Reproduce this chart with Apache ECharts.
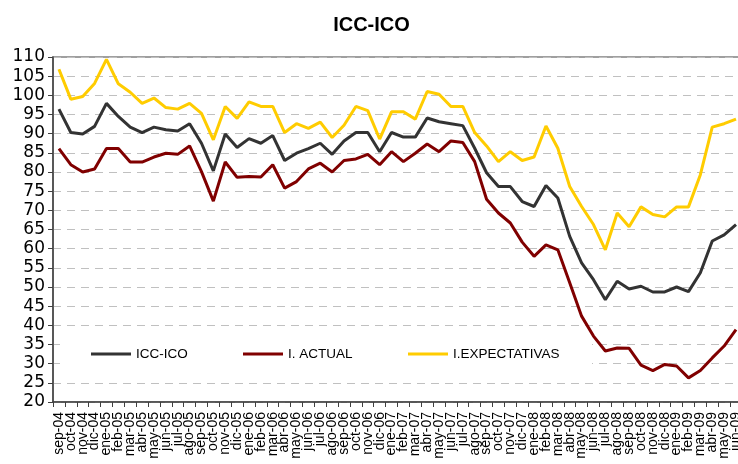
<!DOCTYPE html>
<html>
<head>
<meta charset="utf-8">
<script src="https://cdn.jsdelivr.net/npm/echarts@6/dist/echarts.min.js"></script>
<style>
html,body{margin:0;padding:0;background:#fff;overflow:hidden;width:738px;height:464px;}
#chart{width:743px;height:464px;}
</style>
</head>
<body>
<div id="chart"></div>
<script>
var months = ['sep-04','oct-04','nov-04','dic-04',
  'ene-05','feb-05','mar-05','abr-05','may-05','jun-05','jul-05','ago-05','sep-05','oct-05','nov-05','dic-05',
  'ene-06','feb-06','mar-06','abr-06','may-06','jun-06','jul-06','ago-06','sep-06','oct-06','nov-06','dic-06',
  'ene-07','feb-07','mar-07','abr-07','may-07','jun-07','jul-07','ago-07','sep-07','oct-07','nov-07','dic-07',
  'ene-08','feb-08','mar-08','abr-08','may-08','jun-08','jul-08','ago-08','sep-08','oct-08','nov-08','dic-08',
  'ene-09','feb-09','mar-09','abr-09','may-09','jun-09'];

var iccIco = [96.4,90.3,89.9,91.9,
  97.9,94.5,91.7,90.3,91.7,91.0,90.7,92.6,87.5,80.3,89.9,86.4,
  88.7,87.5,89.5,83.0,84.9,86.1,87.5,84.6,88.1,90.3,90.3,85.3,
  90.3,89.1,89.1,94.1,93.1,92.6,92.1,86.2,79.8,76.2,76.2,72.3,
  71.0,76.5,73.2,63.2,56.3,51.9,46.7,51.5,49.5,50.2,48.7,48.7,
  50.0,48.8,53.7,62.0,63.6,66.3];

var iActual = [86.1,81.9,80.0,80.8,
  86.1,86.1,82.6,82.6,83.9,84.9,84.6,86.8,80.1,72.4,82.6,78.6,
  78.8,78.7,81.9,75.8,77.5,80.8,82.3,80.0,83.0,83.4,84.6,81.9,
  85.3,82.7,84.9,87.3,85.3,88.1,87.7,82.7,72.9,69.3,66.7,61.7,
  58.0,61.0,59.7,51.1,42.4,37.2,33.3,34.1,34.0,29.6,28.2,29.8,
  29.4,26.3,28.2,31.5,34.6,38.9];

var iExpect = [106.8,99.0,99.7,103.1,
  109.4,103.0,100.8,97.9,99.3,96.8,96.4,97.9,95.3,88.4,97.1,94.0,
  98.3,97.1,97.1,90.3,92.6,91.4,93.0,89.0,92.2,97.1,96.0,88.6,
  95.7,95.7,93.8,101.0,100.3,97.1,97.1,90.3,86.8,82.7,85.3,83.0,
  83.9,92.0,86.2,76.2,71.0,66.3,59.7,69.3,65.7,70.9,68.9,68.3,
  70.9,70.9,79.3,91.7,92.6,93.8];

var seriesNames = ['ICC-ICO','I. ACTUAL','I.EXPECTATIVAS'];
var seriesColors = ['#333333','#800000','#FFCC00'];
var seriesData = [iccIco, iActual, iExpect];

var chart = echarts.init(document.getElementById('chart'), null, {renderer:'canvas'});

var legendLefts = [91, 243, 408];
var legends = seriesNames.map(function(n, k){
  return {
    data:[n], left: legendLefts[k], top: 347, orient:'horizontal',
    icon:'rect', itemWidth:40, itemHeight:3, padding:0,
    textStyle:{fontFamily:'Liberation Sans, Arial, sans-serif', fontSize:13.5, color:'#000'},
    selectedMode:false, z:10
  };
});

var option = {
  animation:false,
  backgroundColor:'#ffffff',
  title:{
    text:'ICC-ICO', left:'center', top:10,
    textStyle:{fontFamily:'Liberation Sans, Arial, sans-serif', fontSize:20, fontWeight:'bold', color:'#000'}
  },
  legend: legends,
  graphic:[{
    type:'rect', left:60, top:336, shape:{width:532, height:38},
    style:{fill:'#ffffff'}, z:1, silent:true
  }],
  grid:{left:53, right:0, top:57, bottom:62, show:true, borderColor:'#808080', borderWidth:1.5, backgroundColor:'transparent'},
  xAxis:{
    type:'category', data:months, boundaryGap:true,
    axisLine:{lineStyle:{color:'#404040', width:1.5}},
    axisTick:{show:true, inside:false, length:5, interval:0, lineStyle:{color:'#404040', width:1}},
    axisLabel:{interval:0, rotate:90, margin:10, fontSize:14, color:'#000',
      fontFamily:'Liberation Sans, Arial, sans-serif'},
    splitLine:{show:false}
  },
  yAxis:{
    type:'value', min:20, max:110, interval:5,
    axisLine:{show:true, lineStyle:{color:'#404040', width:1.5}},
    axisTick:{show:true, inside:false, length:5, lineStyle:{color:'#404040', width:1}},
    axisLabel:{margin:8, fontSize:17, color:'#000', fontFamily:'DejaVu Sans, sans-serif'},
    splitLine:{show:true, lineStyle:{color:'#c0c0c0', type:[8,6], width:1}}
  },
  series: seriesNames.map(function(n, k){
    return {
      name:n, type:'line', data:seriesData[k], symbol:'none', showSymbol:false,
      lineStyle:{color:seriesColors[k], width:3}, itemStyle:{color:seriesColors[k]},
      z:5
    };
  })
};
chart.setOption(option);
</script>
</body>
</html>
